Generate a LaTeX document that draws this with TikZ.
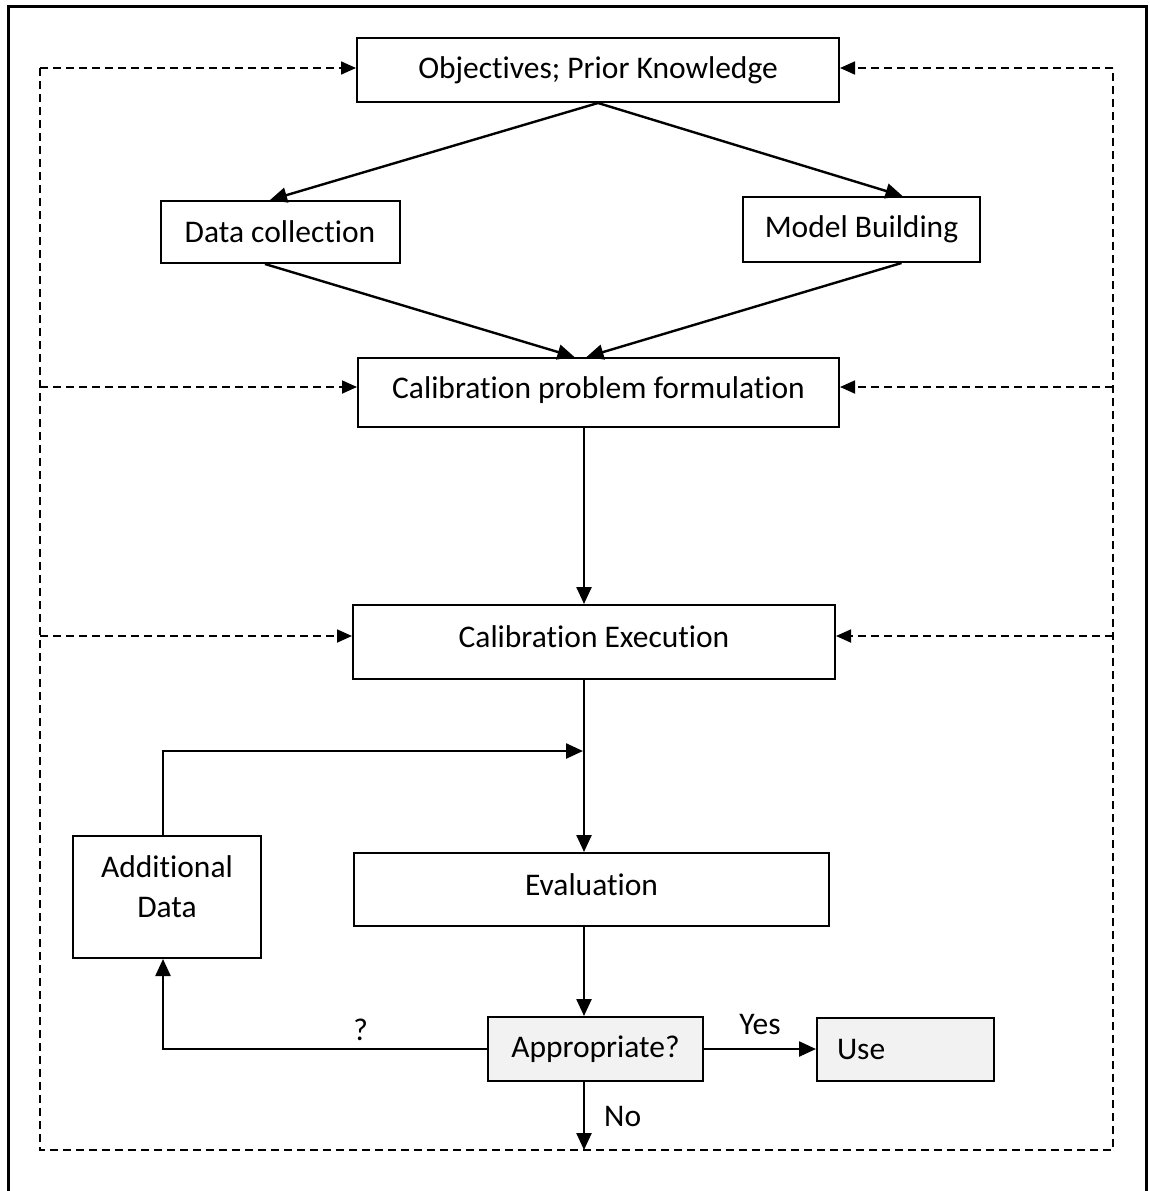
\documentclass[tikz,border=0pt]{standalone}
\usepackage{fontspec}
\setmainfont{Carlito}[Ligatures={NoCommon}]
\usepackage{xcolor}
\usetikzlibrary{arrows.meta, positioning, calc}
\definecolor{choicegray}{RGB}{242,242,242}

\begin{document}
\begin{tikzpicture}[
    x=1pt, y=-1pt,
    font=\fontsize{31.5}{40}\selectfont,
    block/.style={rectangle, draw=black, line width=2pt, inner sep=0pt, align=center},
    choice/.style={block, fill=choicegray},
    arrow/.style={-{Triangle[length=17pt, width=15pt]}, line width=2.4pt},
    loop/.style={dash pattern=on 8pt off 5pt, line width=1.8pt},
    loopin/.style={loop, -{Triangle[length=15pt, width=13pt]}},
    tag/.style={inner sep=0pt}
]
\useasboundingbox (0,0) rectangle (1149,1191);

% Frame
\draw[line width=3pt] (8,1191) -- (8,6) -- (1146,6) -- (1146,1191);

% Top
\node[block, minimum width=482pt, minimum height=64pt] (obj) at (598,70) {Objectives; Prior Knowledge};
\node[block, minimum width=239pt, minimum height=62pt] (data) at (280,232) {Data collection};
\node[block, minimum width=237pt, minimum height=65pt] (model) at (861.5,229.5) {Model Building};

% Calibration
\node[block, minimum width=481pt, minimum height=69pt, text depth=10pt] (formul) at (598.5,392.5) {Calibration problem formulation};
\node[block, minimum width=482pt, minimum height=74pt, text depth=10pt] (exec) at (594,642) {Calibration Execution};
\node[block, minimum width=475pt, minimum height=73pt, text depth=10pt] (eval) at (591.5,889.5) {Evaluation};

% Decision
\node[choice, minimum width=215pt, minimum height=64pt] (approp) at (595.5,1049) {Appropriate?};
\node[choice, right=112pt of approp, minimum height=63pt, text width=137pt, inner xsep=20pt, align=left] (use) {Use};
\node[block, minimum width=188pt, minimum height=122pt, text depth=20pt] (addata) at (167,897) {Additional\\Data};

% Helper coordinates
\coordinate (spine) at (584,0);
\coordinate (branch) at (163,0);
\coordinate (merge) at (584,751);
\coordinate (l1) at (40,68);
\coordinate (l2) at (40,387);
\coordinate (l3) at (40,636);
\coordinate (r1) at (1113,68);
\coordinate (r2) at (1113,387);
\coordinate (r3) at (1113,636);
\coordinate (lbot) at (40,1150);
\coordinate (rbot) at (1113,1150);

% Arrows
\draw[arrow] (obj.south) -- ([xshift=-10pt]data.north);
\draw[arrow] (obj.south) -- ([xshift=41pt]model.north);
\draw[arrow] ([xshift=-15pt]data.south) -- ([xshift=-24pt]formul.north);
\draw[arrow] ([xshift=40pt]model.south) -- ([xshift=-12pt]formul.north);
\draw[arrow] (formul.south -| spine) -- (exec.north -| spine);
\draw[arrow] (exec.south -| spine) -- (eval.north -| spine);
\draw[arrow] (eval.south -| spine) -- (approp.north -| spine);
\draw[arrow] (approp.south -| spine) -- (spine |- lbot) node[tag, midway, right=19pt] {No};
\draw[arrow] (approp.east) -- (use.west) node[tag, midway, above=13pt] {Yes};
\draw[arrow] (approp.west) -- (branch |- approp.west) node[tag, pos=0.39, above=7pt] {?} -- (branch |- addata.south);
\draw[arrow] (branch |- addata.north) -- (branch |- merge) -- ([xshift=-1pt]merge);

% Feedback loop
\draw[loop] (l1) -- (lbot) -- (rbot) -- (r1);
\foreach \n/\i in {obj/1, formul/2, exec/3} {
  \draw[loopin] (l\i) -- (\n.west |- l\i);
  \draw[loopin] (r\i) -- (\n.east |- r\i);
}
\end{tikzpicture}
\end{document}
